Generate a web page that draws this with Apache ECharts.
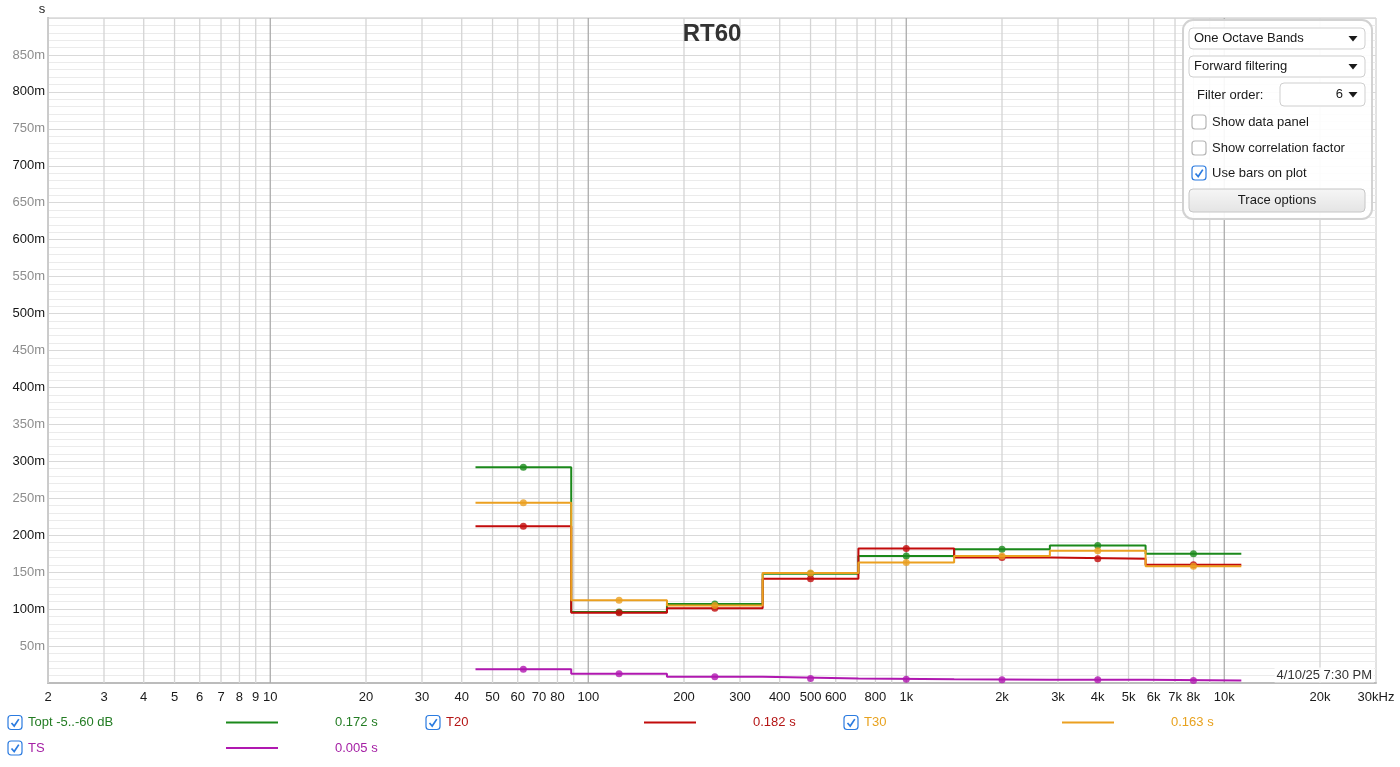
<!DOCTYPE html>
<html>
<head>
<meta charset="utf-8">
<script src="https://cdn.jsdelivr.net/npm/echarts@6/dist/echarts.min.js"></script>
<style>
html,body{margin:0;padding:0;background:#fff;}
#chart{width:1400px;height:767px;}
</style>
</head>
<body>
<div id="chart"></div>
<script>
// ---------- DATA ----------
const bandCenters = [62.5, 125, 250, 500, 1000, 2000, 4000, 8000];
const toptValues = [0.292, 0.096, 0.107, 0.148, 0.172, 0.181, 0.186, 0.175];
const t20Values  = [0.212, 0.095, 0.101, 0.141, 0.182, 0.170, 0.168, 0.160];
const t30Values  = [0.244, 0.112, 0.105, 0.149, 0.163, 0.172, 0.179, 0.158];
const tsValues   = [0.0185, 0.0125, 0.0085, 0.006, 0.005, 0.0045, 0.0045, 0.0035];

const seriesNames  = ['Topt -5..-60 dB', 'T20', 'T30', 'TS'];
const seriesTotals = ['0.172 s', '0.182 s', '0.163 s', '0.005 s'];

const xTickValues = [2,3,4,5,6,7,8,9,10,20,30,40,50,60,70,80,100,200,300,400,500,600,800,1000,2000,3000,4000,5000,6000,7000,8000,10000,20000,30000];
const xTickLabels = ['2','3','4','5','6','7','8','9','10','20','30','40','50','60','70','80','100','200','300','400','500','600','800','1k','2k','3k','4k','5k','6k','7k','8k','10k','20k','30kHz'];

const panelDropdowns = ['One Octave Bands', 'Forward filtering'];
const panelFilterOrder = '6';
const panelChecks = [['Show data panel', false], ['Show correlation factor', false], ['Use bars on plot', true]];
const timestamp = '4/10/25 7:30 PM';
const chartTitle = 'RT60';

// ---------- STYLE ----------
const FONT = '"Liberation Sans", Arial, Helvetica, sans-serif';
const lineColors = ['#1b891b', '#c20b0b', '#eba020', '#b018b0'];
const textColors = ['#237c23', '#b51515', '#e8a21e', '#a520a5'];

// band edges (octave: f/sqrt2 .. f*sqrt2)
function stepData(vals) {
  const d = bandCenters.map((f, i) => [f / Math.SQRT2, vals[i]]);
  d.push([bandCenters[bandCenters.length - 1] * Math.SQRT2, vals[vals.length - 1]]);
  return d;
}
function dotData(vals) { return bandCenters.map((f, i) => [f, vals[i]]); }

// vertical grid frequencies (1..9 x 10^n inside range)
const gridFreqs = [];
for (let n = 0; n <= 4; n++) for (let m = 1; m <= 9; m++) {
  const f = m * Math.pow(10, n);
  if (f >= 2 && f <= 30000) gridFreqs.push(f);
}
const labelMap = {};
xTickValues.forEach((v, i) => labelMap[v] = xTickLabels[i]);

const allVals = [toptValues, t20Values, t30Values, tsValues];
const series = [];
series.push({
  type: 'custom', z: 1, silent: true, clip: false,
  data: gridFreqs.map(f => [f, 0]),
  encode: {x: 0, y: 1},
  renderItem: function (params, api) {
    const f = api.value(0);
    const p0 = api.coord([f, 0]);
    const p1 = api.coord([f, 0.9]);
    const lg = Math.log10(f);
    const decade = Math.abs(lg - Math.round(lg)) < 1e-9;
    const children = [];
    if (f !== 30000) {
      children.push({type: 'line', shape: {x1: p0[0], y1: p0[1], x2: p1[0], y2: p1[1]},
        style: {stroke: decade ? '#acacac' : '#d4d4d4', lineWidth: 1.3}});
    }
    const lab = labelMap[f];
    if (lab) {
      children.push({type: 'text', x: p0[0], y: p0[1] + 14,
        style: {text: lab, textAlign: 'center', textVerticalAlign: 'middle', fill: '#1a1a1a', font: '13px ' + FONT}});
    }
    return {type: 'group', children: children};
  }
});
allVals.forEach((vals, i) => {
  series.push({
    type: 'line', name: seriesNames[i], step: 'end', data: stepData(vals),
    showSymbol: false, symbol: 'none', z: 3 + i,
    lineStyle: {color: lineColors[i], width: 2}, animation: false
  });
  series.push({
    type: 'scatter', data: dotData(vals), symbol: 'circle', symbolSize: 7, z: 3 + i,
    itemStyle: {color: lineColors[i]}, animation: false
  });
});

// ---------- GRAPHIC (legend, panel, labels) ----------
const graphic = [];
function checkbox(x, y, checked) {
  const g = [{type: 'rect', shape: {x: x, y: y, width: 14, height: 14, r: 3},
    style: {fill: '#fff', stroke: checked ? '#2b7be0' : '#b5b5b5', lineWidth: 1.2}}];
  if (checked) g.push({type: 'polyline', shape: {points: [[x + 3.5, y + 7.5], [x + 6.2, y + 10.5], [x + 10.8, y + 3.6]]},
    style: {stroke: '#2b7be0', lineWidth: 1.7, fill: null}});
  return g;
}
const legendPos = [
  {cb: 8, tx: 28, l1: 226, l2: 278, vx: 335, y: 722.5},
  {cb: 426, tx: 446, l1: 644, l2: 696, vx: 753, y: 722.5},
  {cb: 844, tx: 864, l1: 1062, l2: 1114, vx: 1171, y: 722.5},
  {cb: 8, tx: 28, l1: 226, l2: 278, vx: 335, y: 748}
];
legendPos.forEach((p, i) => {
  checkbox(p.cb, p.y - 7, true).forEach(e => graphic.push(e));
  graphic.push({type: 'text', x: p.tx, y: p.y, style: {text: seriesNames[i], fill: textColors[i], font: '13px ' + FONT, textVerticalAlign: 'middle'}});
  graphic.push({type: 'line', shape: {x1: p.l1, y1: p.y, x2: p.l2, y2: p.y}, style: {stroke: lineColors[i], lineWidth: 2}});
  graphic.push({type: 'text', x: p.vx, y: p.y, style: {text: seriesTotals[i], fill: textColors[i], font: '13px ' + FONT, textVerticalAlign: 'middle'}});
});

// title, unit, timestamp
graphic.push({type: 'text', x: 712, y: 34, z: 10, style: {text: chartTitle, font: 'bold 24px ' + FONT, fill: '#333', textAlign: 'center', textVerticalAlign: 'middle'}});
graphic.push({type: 'text', x: 42, y: 9, style: {text: 's', font: '13px ' + FONT, fill: '#222', textAlign: 'center', textVerticalAlign: 'middle'}});
graphic.push({type: 'text', x: 1374, y: 675, z: 10, style: {text: timestamp, font: '13px ' + FONT, fill: '#333', textAlign: 'right', textVerticalAlign: 'middle', backgroundColor: 'rgba(255,255,255,0.85)', padding: [1, 2]}});

// panel
graphic.push({type: 'rect', z: 20, shape: {x: 1183, y: 20, width: 189, height: 199, r: 10}, style: {fill: 'rgba(255,255,255,0.9)', stroke: '#d2d2d2', lineWidth: 2}});
function dropdown(x, y, w, h, text, rightAlignText) {
  graphic.push({type: 'rect', z: 21, shape: {x: x, y: y, width: w, height: h, r: 4}, style: {fill: '#fff', stroke: '#cfcfcf', lineWidth: 1}});
  if (rightAlignText) {
    graphic.push({type: 'text', z: 22, x: x + w - 22, y: y + h / 2, style: {text: text, font: '13px ' + FONT, fill: '#1a1a1a', textAlign: 'right', textVerticalAlign: 'middle'}});
  } else {
    graphic.push({type: 'text', z: 22, x: x + 5, y: y + h / 2, style: {text: text, font: '13px ' + FONT, fill: '#1a1a1a', textVerticalAlign: 'middle'}});
  }
  const tx = x + w - 12, ty = y + h / 2;
  graphic.push({type: 'polygon', z: 22, shape: {points: [[tx - 4.5, ty - 2.5], [tx + 4.5, ty - 2.5], [tx, ty + 3]]}, style: {fill: '#1a1a1a'}});
}
dropdown(1189, 28, 176, 21, panelDropdowns[0], false);
dropdown(1189, 56, 176, 21, panelDropdowns[1], false);
graphic.push({type: 'text', z: 22, x: 1197, y: 95, style: {text: 'Filter order:', font: '13px ' + FONT, fill: '#1a1a1a', textVerticalAlign: 'middle'}});
dropdown(1280, 83, 85, 23, panelFilterOrder, true);
const checkY = [122, 148, 173];
panelChecks.forEach((c, i) => {
  checkbox(1192, checkY[i] - 7, c[1]).forEach(e => { e.z = 22; graphic.push(e); });
  graphic.push({type: 'text', z: 22, x: 1212, y: checkY[i], style: {text: c[0], font: '13px ' + FONT, fill: '#1a1a1a', textVerticalAlign: 'middle'}});
});
graphic.push({type: 'rect', z: 21, shape: {x: 1189, y: 189, width: 176, height: 23, r: 4},
  style: {fill: {type: 'linear', x: 0, y: 0, x2: 0, y2: 1, colorStops: [{offset: 0, color: '#f6f6f6'}, {offset: 1, color: '#e4e4e4'}]}, stroke: '#c6c6c6', lineWidth: 1}});
graphic.push({type: 'text', z: 22, x: 1277, y: 200.5, style: {text: 'Trace options', font: '13px ' + FONT, fill: '#1a1a1a', textAlign: 'center', textVerticalAlign: 'middle'}});

// ---------- CHART ----------
const chart = echarts.init(document.getElementById('chart'), null, {renderer: 'canvas'});
chart.setOption({
  animation: false,
  backgroundColor: '#fff',
  grid: {left: 48, top: 18, width: 1328, height: 665, show: true, borderColor: '#c4c4c4', borderWidth: 1, backgroundColor: '#fff'},
  xAxis: {
    type: 'log', logBase: 10, min: 2, max: 30000,
    axisLine: {show: true, lineStyle: {color: '#bcbcbc', width: 2}},
    axisTick: {show: false}, axisLabel: {show: false}, splitLine: {show: false}, minorSplitLine: {show: false}
  },
  yAxis: {
    type: 'value', min: 0, max: 0.9, interval: 0.05,
    axisLine: {show: true, lineStyle: {color: '#bcbcbc', width: 2}}, axisTick: {show: false},
    splitLine: {show: true, lineStyle: {color: '#d9d9d9', width: 1}},
    minorTick: {show: false, splitNumber: 5},
    minorSplitLine: {show: true, lineStyle: {color: '#ebebeb', width: 1}},
    axisLabel: {
      margin: 3, fontFamily: FONT, fontSize: 13,
      formatter: function (v) {
        const m = Math.round(v * 1000);
        if (m === 0 || m >= 900) return '';
        return (m % 100 === 0 ? '{a|' : '{b|') + m + 'm}';
      },
      rich: {a: {color: '#151515', fontFamily: FONT, fontSize: 13}, b: {color: '#8d8d8d', fontFamily: FONT, fontSize: 13}}
    }
  },
  series: series,
  graphic: graphic
});
</script>
</body>
</html>
